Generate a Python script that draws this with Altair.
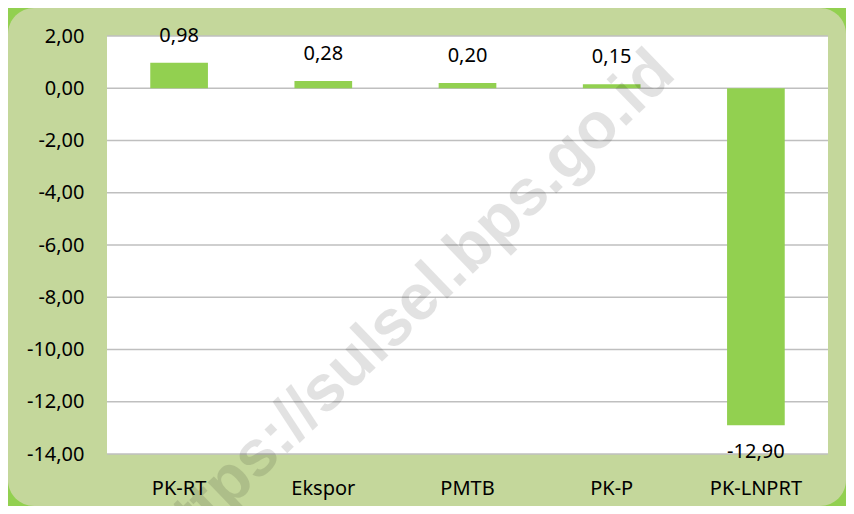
import altair as alt
import pandas as pd

categories = ["PK-RT", "Ekspor", "PMTB", "PK-P", "PK-LNPRT"]
values = [0.98, 0.28, 0.20, 0.15, -12.90]
y_ticks = [2, 0, -2, -4, -6, -8, -10, -12, -14]
watermark = "https://sulsel.bps.go.id"

W, H = 721, 418
PAD_L, PAD_T, PAD_R, PAD_B = 99, 28, 18, 52
FONT = "Noto Sans"
FS = 20

df = pd.DataFrame({
    "cat": categories,
    "v": values,
    "label": [f"{v:.2f}".replace(".", ",") for v in values],
})
ticks_df = pd.DataFrame({"t": y_ticks})
one = alt.Data(values=[{"a": 1}])

yscale = alt.Scale(domain=[-14, 2], nice=False)
xscale = alt.Scale(paddingInner=0.6, paddingOuter=0.3)

yaxis = alt.Axis(title=None, values=y_ticks, grid=False, domain=False, ticks=False,
                 labelPadding=23, labelFont=FONT, labelFontSize=FS, labelColor="black",
                 labelExpr="replace(replace(format(datum.value, '.2f'), '.', ','), '\u2212', '-')",
                 zindex=1)
xaxis = alt.Axis(title=None, labelAngle=0, labelPadding=24, ticks=False,
                 domain=False, grid=False, labelFont=FONT, labelFontSize=FS,
                 labelColor="black", zindex=1)

frame_green = alt.Chart(one).mark_rect(color="#92d050").encode(
    x=alt.value(-PAD_L), x2=alt.value(W + PAD_R),
    y=alt.value(-PAD_T), y2=alt.value(H + PAD_B))
frame_olive = alt.Chart(one).mark_rect(color="#c4d79b", cornerRadius=26).encode(
    x=alt.value(-PAD_L), x2=alt.value(W + PAD_R),
    y=alt.value(-PAD_T), y2=alt.value(H + PAD_B))
plot_white = alt.Chart(one).mark_rect(color="white").encode(
    x=alt.value(0), x2=alt.value(W), y=alt.value(0), y2=alt.value(H))

grid = alt.Chart(ticks_df).mark_rule(color="#bfbfbf", strokeWidth=1.3).encode(
    x=alt.value(0), x2=alt.value(W),
    y=alt.Y("t:Q", scale=yscale, axis=yaxis))

bars = alt.Chart(df).mark_bar(color="#92d050").encode(
    x=alt.X("cat:N", sort=categories, scale=xscale, axis=xaxis),
    y=alt.Y("v:Q", scale=yscale, axis=yaxis),
)

text_pos = alt.Chart(df).transform_filter("datum.v >= 0").mark_text(
    dy=-27, baseline="middle", font=FONT, fontSize=FS, color="black").encode(
    x=alt.X("cat:N", sort=categories, scale=xscale, axis=xaxis),
    y=alt.Y("v:Q", scale=yscale, axis=yaxis), text="label:N")

text_neg = alt.Chart(df).transform_filter("datum.v < 0").mark_text(
    dy=27, baseline="middle", font=FONT, fontSize=FS, color="black").encode(
    x=alt.X("cat:N", sort=categories, scale=xscale, axis=xaxis),
    y=alt.Y("v:Q", scale=yscale, axis=yaxis), text="label:N")

wm = alt.Chart(one).mark_text(
    text=watermark, font="Liberation Sans", fontWeight="bold", fontSize=65,
    angle=316, align="center", baseline="alphabetic", color="black", opacity=0.11).encode(
    x=alt.value(316), y=alt.value(286))

chart = alt.layer(frame_green, frame_olive, plot_white, grid, bars, text_pos, text_neg, wm).properties(
    width=W, height=H,
    padding={"left": PAD_L, "top": PAD_T, "right": PAD_R, "bottom": PAD_B},
    autosize=alt.AutoSizeParams(type="none"),
).configure_view(stroke=None).configure(background="white")

chart.save("out.html", embed_options={"renderer": "svg", "actions": False})
